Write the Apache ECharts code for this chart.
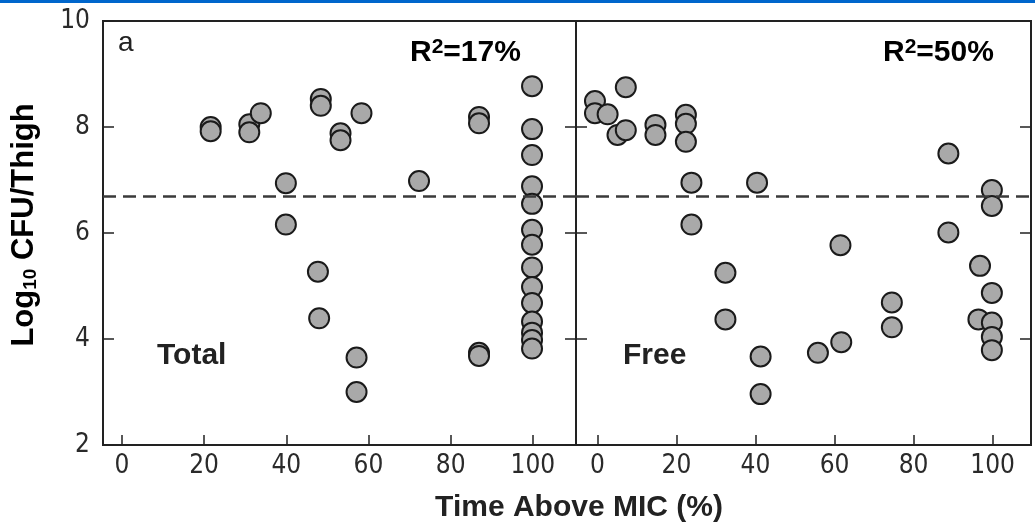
<!DOCTYPE html>
<html>
<head>
<meta charset="utf-8">
<script src="https://cdn.jsdelivr.net/npm/echarts@6/dist/echarts.min.js"></script>
<style>
  html, body { margin: 0; padding: 0; background: #fff; }
  #chart { width: 1035px; height: 529px; }
</style>
</head>
<body>
<div id="chart"></div>
<script>
// Total drug: time above MIC (%) vs log10 CFU/thigh
const totalTime = [21.6, 21.6, 31.0, 31.0, 33.8, 48.4, 48.4, 53.2, 53.2, 58.3,
  39.9, 39.9, 47.7, 48.0, 57.1, 57.1, 72.3, 86.9, 86.9, 86.9, 86.9,
  99.8, 99.8, 99.8, 99.8, 99.8, 99.8, 99.8, 99.8, 99.8, 99.8, 99.8, 99.8, 99.8, 99.8]
const totalLog = [8.00, 7.92, 8.05, 7.90, 8.26, 8.53, 8.40, 7.88, 7.75, 8.26,
  6.94, 6.16, 5.27, 4.39, 3.65, 3.00, 6.98, 8.19, 8.07, 3.74, 3.68,
  8.77, 7.96, 7.47, 6.88, 6.55, 6.06, 5.78, 5.35, 4.98, 4.68, 4.33, 4.12, 3.98, 3.82]

// Free drug
const freeTime = [-0.6, -0.6, 2.6, 7.2, 5.1, 7.2, 14.7, 14.7, 22.4, 22.4, 22.4,
  23.8, 23.8, 32.4, 32.4, 40.4, 41.3, 41.3, 55.8, 61.7, 61.5, 74.5, 74.5,
  88.8, 88.8, 96.8, 96.4, 99.8, 99.8, 99.8, 99.8, 99.8, 99.8]
const freeLog = [8.49, 8.26, 8.24, 8.75, 7.85, 7.94, 8.04, 7.85, 8.23, 8.06, 7.72,
  6.95, 6.16, 5.25, 4.37, 6.95, 3.67, 2.96, 3.74, 3.94, 5.77, 4.69, 4.22,
  7.50, 6.01, 5.38, 4.37, 6.81, 6.51, 4.87, 4.31, 4.04, 3.79]

const xTicks = [0, 20, 40, 60, 80, 100]
const yTicks = [2, 4, 6, 8, 10]
const stasisLine = 6.7
const panelLabels = ['Total', 'Free']
const rSquared = ['17%', '50%']

const chart = echarts.init(document.getElementById('chart'))

const narrow = '"Liberation Sans Narrow", "DejaVu Sans Condensed", "Liberation Sans", sans-serif'
const sans = '"Liberation Sans", Arial, sans-serif'
const ink = '#222'

const zip = (xs, ys) => xs.map((x, i) => [x, ys[i]])

const xAxisFor = (gridIndex, min, max) => ({
  type: 'value', gridIndex, min, max,
  axisLine: { show: false, onZero: false },
  splitLine: { show: false },
  axisTick: { inside: true, length: 10, customValues: xTicks, lineStyle: { color: ink, width: 1.5 } },
  axisLabel: { customValues: xTicks, margin: 8, color: '#2a2a2a', fontFamily: narrow, fontSize: 26 }
})

const yAxisFor = (gridIndex, position, showLabel) => ({
  type: 'value', gridIndex, position, min: 2, max: 10,
  axisLine: { show: false, onZero: false },
  splitLine: { show: false },
  axisTick: { inside: true, length: 11, customValues: yTicks, lineStyle: { color: ink, width: 1.5 } },
  axisLabel: { show: showLabel, customValues: yTicks, margin: 13, color: '#2a2a2a', fontFamily: narrow, fontSize: 26 }
})

const dots = (data, xAxisIndex, yAxisIndex) => ({
  type: 'scatter', xAxisIndex, yAxisIndex, data,
  symbolSize: 20,
  itemStyle: { color: '#a9a9a9', borderColor: '#1a1a1a', borderWidth: 2, opacity: 1 },
  markLine: {
    silent: true, symbol: 'none', label: { show: false },
    lineStyle: { color: '#3a3a3a', width: 2.5, type: [13, 7] },
    data: [{ yAxis: stasisLine }]
  }
})

const bigText = (text, x, y) => ({
  type: 'text', x, y,
  style: {
    text, fill: ink, verticalAlign: 'middle',
    font: 'bold 30px ' + sans
  }
})

const rText = (val, x, y) => ({
  type: 'text', x, y,
  style: {
    text: '{r|R}{s|2}{r|=' + val + '}',
    verticalAlign: 'middle',
    rich: {
      r: { fontFamily: sans, fontWeight: 'bold', fontSize: 30, color: ink, lineHeight: 32 },
      s: { fontFamily: sans, fontWeight: 'bold', fontSize: 21, color: ink, lineHeight: 16, verticalAlign: 'top' }
    }
  }
})

const option = {
  animation: false,
  backgroundColor: '#fff',
  grid: [
    { left: 103, top: 21, width: 473, height: 424, show: true, borderColor: ink, borderWidth: 2 },
    { left: 576, top: 21, width: 455, height: 424, show: true, borderColor: ink, borderWidth: 2 }
  ],
  xAxis: [xAxisFor(0, -4.6, 110.5), xAxisFor(1, -5.4, 109.7)],
  yAxis: [
    yAxisFor(0, 'left', true),
    yAxisFor(0, 'right', false),
    yAxisFor(1, 'left', false),
    yAxisFor(1, 'right', false)
  ],
  series: [
    dots(zip(totalTime, totalLog), 0, 0),
    dots(zip(freeTime, freeLog), 1, 2)
  ],
  graphic: [
    { type: 'rect', shape: { x: 0, y: 0, width: 1035, height: 3 }, style: { fill: '#0066cc' } },
    { type: 'text', x: 118, y: 43, style: { text: 'a', fill: ink, verticalAlign: 'middle', font: '28px ' + sans } },
    rText(rSquared[0], 410, 53),
    rText(rSquared[1], 883, 53),
    bigText(panelLabels[0], 157, 356),
    bigText(panelLabels[1], 623, 356),
    {
      type: 'text', x: 579, y: 508,
      style: { text: 'Time Above MIC (%)', fill: ink, align: 'center', verticalAlign: 'middle', font: 'bold 30px ' + sans }
    },
    {
      type: 'text', x: 24, y: 225, rotation: Math.PI / 2,
      style: {
        text: '{a|Log}{s|10}{a| CFU/Thigh}',
        align: 'center', verticalAlign: 'middle',
        rich: {
          a: { fontFamily: sans, fontWeight: 'bold', fontSize: 31, color: ink, lineHeight: 32 },
          s: { fontFamily: sans, fontWeight: 'bold', fontSize: 19, color: ink, lineHeight: 19, verticalAlign: 'bottom' }
        }
      }
    }
  ]
}

chart.setOption(option)
</script>
</body>
</html>
